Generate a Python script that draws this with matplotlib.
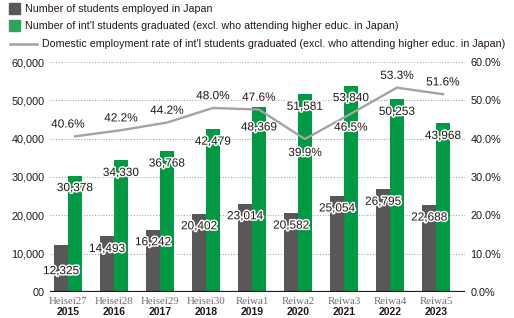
import numpy as np
import matplotlib
matplotlib.use('Agg')
import matplotlib.pyplot as plt
import matplotlib.patheffects as pe
from matplotlib.patches import Rectangle
from matplotlib.lines import Line2D

era_labels = ['Heisei27', 'Heisei28', 'Heisei29', 'Heisei30', 'Reiwa1',
              'Reiwa2', 'Reiwa3', 'Reiwa4', 'Reiwa5']
years = ['2015', '2016', '2017', '2018', '2019', '2020', '2021', '2022', '2023']
employed = [12325, 14493, 16242, 20402, 23014, 20582, 25054, 26795, 22688]
graduated = [30378, 34330, 36768, 42479, 48369, 51581, 53840, 50253, 43968]
rate = [40.6, 42.2, 44.2, 48.0, 47.6, 39.9, 46.5, 53.3, 51.6]

DARK = '#595757'
GREEN = '#009944'
LINE = '#a3a3a3'
TXT = '#231815'
W, H = 514, 318

plt.rcParams['font.family'] = ['Liberation Sans', 'DejaVu Sans']

fig = plt.figure(figsize=(W / 100, H / 100), dpi=100)
ax = fig.add_axes([50 / W, 1 - 292 / H, 415 / W, 230 / H])
ax2 = ax.twinx()

x = np.arange(len(years))
bw = 0.3
ax.bar(x - bw / 2, employed, bw, color=DARK, zorder=2)
ax.bar(x + bw / 2, graduated, bw, color=GREEN, zorder=2)
ax2.plot(x + bw / 2, rate, color=LINE, lw=1.7, zorder=3)

ax.set_xlim(-0.39, 8.63)
ax.set_ylim(0, 60000)
ax2.set_ylim(0, 60)

yt = np.arange(0, 60001, 10000)
ax.set_yticks(yt)
ax.set_yticklabels(['00'] + ['{:,}'.format(v) for v in yt[1:]])
ax2.set_yticks(np.arange(0, 61, 10))
ax2.set_yticklabels(['%.1f%%' % v for v in np.arange(0, 61, 10)])
for a in (ax, ax2):
    a.tick_params(length=0, labelsize=7.8, labelcolor=TXT, pad=4)
    for s in a.spines.values():
        s.set_visible(False)
ax.set_xticks([])
ax.grid(axis='y', color='#aaaaaa', linestyle=(0, (1, 1.5)), lw=0.8, zorder=0)
ax.axhline(0, color='#231815', lw=1.6, zorder=4)

# x axis labels, two lines
for i in x:
    ax.annotate(era_labels[i], (i, 0), xytext=(0, -6.5), textcoords='offset points',
                ha='center', va='center', fontsize=7.8, color='#6e6e6e',
                family=['Liberation Serif', 'DejaVu Serif'], annotation_clip=False)
    ax.annotate(years[i], (i, 0), xytext=(0, -14.5), textcoords='offset points',
                ha='center', va='center', fontsize=7.5, color=TXT, fontweight='bold',
                annotation_clip=False)

stroke = [pe.withStroke(linewidth=2.2, foreground='white')]

# bar value labels
for i in x:
    dy = -19 if i == 0 else -9
    ax.annotate('{:,}'.format(employed[i]), (i - bw / 2, employed[i]), xytext=(0, dy),
                textcoords='offset points', ha='center', va='center', fontsize=8.5,
                color=TXT, path_effects=stroke, zorder=5)
    dy = -15 if i == 4 else -9
    ax.annotate('{:,}'.format(graduated[i]), (i + bw / 2, graduated[i]), xytext=(0, dy),
                textcoords='offset points', ha='center', va='center', fontsize=8.5,
                color=TXT, path_effects=stroke, zorder=5)

# rate labels
below = {5, 6}
for i in x:
    dy = -10 if i in below else 8.5
    dx = -5 if i == 0 else 0
    ax2.annotate('%.1f%%' % rate[i], (i + bw / 2, rate[i]), xytext=(dx, dy),
                 textcoords='offset points', ha='center', va='center', fontsize=8.5,
                 color=TXT, path_effects=stroke, zorder=6)


# legend drawn in pixel space
def fx(px):
    return px / W


def fy(py):
    return 1 - py / H


fig.patches.append(Rectangle((fx(9), fy(14)), 11 / W, 11 / H, color=DARK,
                             transform=fig.transFigure))
fig.patches.append(Rectangle((fx(9), fy(31)), 11 / W, 11 / H, color='#2ea55a',
                             transform=fig.transFigure))
fig.lines.append(Line2D([fx(10), fx(37)], [fy(44), fy(44)], color=LINE, lw=1.8,
                        transform=fig.transFigure))
fig.text(fx(25), fy(9), 'Number of students employed in Japan', fontsize=7.7,
         color=TXT, va='center')
fig.text(fx(25), fy(26), "Number of int'l students graduated (excl. who attending higher educ. in Japan)",
         fontsize=7.7, color=TXT, va='center')
fig.text(fx(42), fy(44), "Domestic employment rate of int'l students graduated (excl. who attending higher educ. in Japan)",
         fontsize=7.7, color=TXT, va='center')

fig.savefig('out.png', dpi=100)
